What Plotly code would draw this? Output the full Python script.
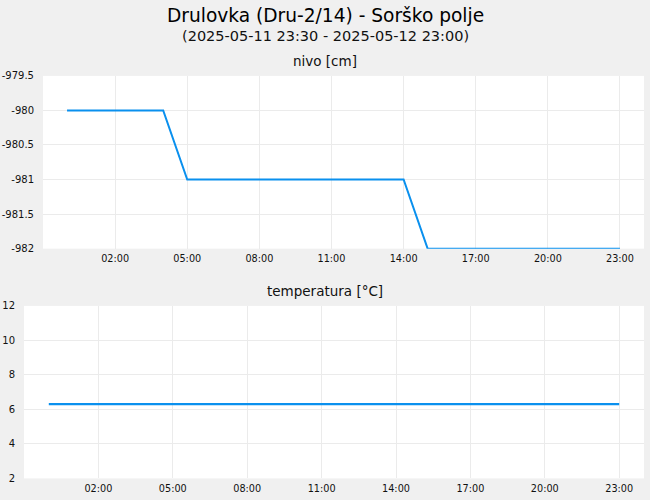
import plotly.graph_objects as go

times = ["2025-05-12 %02d:00" % h for h in range(24)]
nivo = [-980, -980, -980, -980, -980,
        -981, -981, -981, -981, -981, -981, -981, -981, -981, -981,
        -982, -982, -982, -982, -982, -982, -982, -982, -982]
temperatura = [6.3] * 24

x_ticks = ["2025-05-12 %02d:00" % h for h in (2, 5, 8, 11, 14, 17, 20, 23)]
x_labels = ["02:00", "05:00", "08:00", "11:00", "14:00", "17:00", "20:00", "23:00"]
nivo_ticks = [-979.5, -980, -980.5, -981, -981.5, -982]
nivo_labels = ["-979.5", "-980", "-980.5", "-981", "-981.5", "-982"]
temp_ticks = [2, 4, 6, 8, 10, 12]
temp_labels = ["2", "4", "6", "8", "10", "12"]

title = "Drulovka (Dru-2/14) - Sorško polje"
subtitle = "(2025-05-11 23:30 - 2025-05-12 23:00)"

W, H = 650, 500
FONT = "DejaVu Sans"
LINE = "#0a90ee"
GRID = "#ebebeb"
BG = "#f0f0f0"

fig = go.Figure()
fig.add_trace(go.Scatter(x=times, y=nivo, mode="lines", line=dict(color=LINE, width=2),
                         xaxis="x", yaxis="y", showlegend=False))
fig.add_trace(go.Scatter(x=times, y=temperatura, mode="lines", line=dict(color=LINE, width=2.2),
                         xaxis="x2", yaxis="y2", showlegend=False))

xr = ["2025-05-11 23:00", "2025-05-13 00:00"]
common_x = dict(range=xr, tickvals=x_ticks, ticktext=x_labels, showgrid=True, gridcolor=GRID,
                gridwidth=1, zeroline=False, showline=False, ticks="outside", ticklen=1,
                tickcolor="rgba(0,0,0,0)", tickfont=dict(family=FONT, size=9.7, color="#111"))
common_y = dict(showgrid=True, gridcolor=GRID, gridwidth=1, zeroline=False, showline=False,
                ticks="outside", ticklen=6, tickcolor="rgba(0,0,0,0)",
                tickfont=dict(family=FONT, size=10, color="#111"))

fig.update_layout(
    width=W, height=H,
    margin=dict(l=0, r=0, t=0, b=0),
    paper_bgcolor=BG, plot_bgcolor="white",
    xaxis=dict(domain=[43 / W, 644 / W], anchor="y", **common_x),
    yaxis=dict(domain=[1 - 248.6 / H, 1 - 71.6 / H], anchor="x", range=[-982, -979.5],
               tickvals=nivo_ticks, ticktext=nivo_labels, **common_y),
    xaxis2=dict(domain=[24 / W, 644 / W], anchor="y2", **common_x),
    yaxis2=dict(domain=[1 - 484 / H, 1 - 307.3 / H], anchor="x2", range=[2, 12],
                tickvals=temp_ticks, ticktext=temp_labels, **common_y),
    annotations=[
        dict(text=title, x=0.5, y=1 - 10 / H, xref="paper", yref="paper", showarrow=False,
             font=dict(family=FONT, size=18.6, color="black"), yanchor="middle"),
        dict(text=subtitle, x=0.5, y=1 - 30.5 / H, xref="paper", yref="paper", showarrow=False,
             font=dict(family=FONT, size=14.5, color="#111"), yanchor="middle"),
        dict(text="nivo [cm]", x=0.5, y=1 - 56 / H, xref="paper", yref="paper", showarrow=False,
             font=dict(family=FONT, size=13.5, color="#111"), yanchor="middle"),
        dict(text="temperatura [°C]", x=0.5, y=1 - 291.5 / H, xref="paper", yref="paper",
             showarrow=False, font=dict(family=FONT, size=13.5, color="#111"), yanchor="middle"),
    ],
)

post = ("document.documentElement.style.margin='0';document.documentElement.style.background='%s';"
        "document.body.style.margin='0';document.body.style.padding='0';"
        "document.body.style.background='%s';document.body.style.overflow='hidden';"
        "var gd=document.getElementById('{plot_id}');"
        "gd.style.position='fixed';gd.style.top='0px';gd.style.left='0px';" % (BG, BG))

fig.write_html("out.html", post_script=post, config={"displayModeBar": False})
